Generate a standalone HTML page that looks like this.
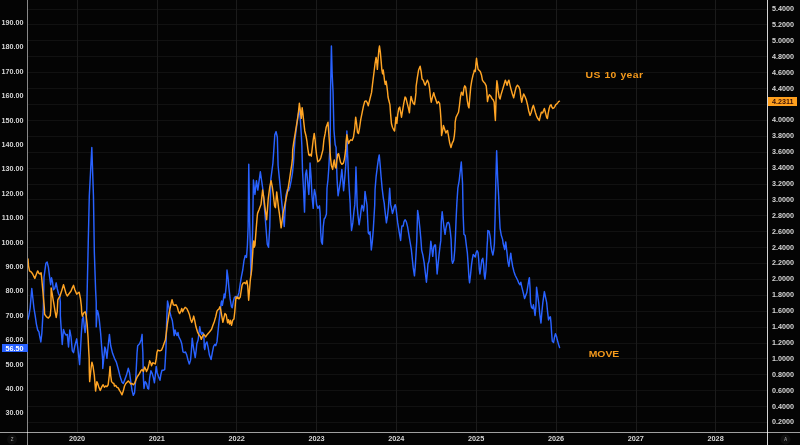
<!DOCTYPE html><html><head><meta charset="utf-8"><style>
html,body{margin:0;padding:0;background:#040404;}
body{width:800px;height:445px;position:relative;overflow:hidden;font-family:"Liberation Sans",sans-serif;}
.l{position:absolute;color:#d6d6d6;font-weight:bold;font-size:7.2px;line-height:8px;height:8px;white-space:nowrap;}
.ll{left:0;width:23.4px;text-align:right;}
.rl{left:772px;}
.yl{width:40px;text-align:center;top:434.6px;font-size:7.3px;}
.tag{position:absolute;font-weight:bold;font-size:7.2px;line-height:8px;height:8px;white-space:nowrap;}
.ann{transform:scaleY(0.93);transform-origin:0 100%;position:absolute;color:#f59a1c;font-weight:bold;font-size:10.4px;line-height:12px;white-space:nowrap;}
.ic{position:absolute;color:#8a8a8a;font-size:4.5px;line-height:6px;width:10px;text-align:center;font-weight:bold;}

</style></head><body>
<svg width="800" height="445" viewBox="0 0 800 445" style="position:absolute;left:0;top:0">
<rect x="28" y="9" width="739" height="1" fill="#111111"/>
<rect x="28" y="24" width="739" height="1" fill="#111111"/>
<rect x="28" y="40" width="739" height="1" fill="#111111"/>
<rect x="28" y="56" width="739" height="1" fill="#111111"/>
<rect x="28" y="72" width="739" height="1" fill="#111111"/>
<rect x="28" y="88" width="739" height="1" fill="#111111"/>
<rect x="28" y="104" width="739" height="1" fill="#111111"/>
<rect x="28" y="120" width="739" height="1" fill="#111111"/>
<rect x="28" y="136" width="739" height="1" fill="#111111"/>
<rect x="28" y="152" width="739" height="1" fill="#111111"/>
<rect x="28" y="168" width="739" height="1" fill="#111111"/>
<rect x="28" y="184" width="739" height="1" fill="#111111"/>
<rect x="28" y="199" width="739" height="1" fill="#111111"/>
<rect x="28" y="215" width="739" height="1" fill="#111111"/>
<rect x="28" y="231" width="739" height="1" fill="#111111"/>
<rect x="28" y="247" width="739" height="1" fill="#111111"/>
<rect x="28" y="263" width="739" height="1" fill="#111111"/>
<rect x="28" y="279" width="739" height="1" fill="#111111"/>
<rect x="28" y="295" width="739" height="1" fill="#111111"/>
<rect x="28" y="311" width="739" height="1" fill="#111111"/>
<rect x="28" y="327" width="739" height="1" fill="#111111"/>
<rect x="28" y="343" width="739" height="1" fill="#111111"/>
<rect x="28" y="358" width="739" height="1" fill="#111111"/>
<rect x="28" y="374" width="739" height="1" fill="#111111"/>
<rect x="28" y="390" width="739" height="1" fill="#111111"/>
<rect x="28" y="406" width="739" height="1" fill="#111111"/>
<rect x="28" y="422" width="739" height="1" fill="#111111"/>
<rect x="77" y="0" width="1" height="432" fill="#1b1b1b"/>
<rect x="157" y="0" width="1" height="432" fill="#1b1b1b"/>
<rect x="236" y="0" width="1" height="432" fill="#1b1b1b"/>
<rect x="316" y="0" width="1" height="432" fill="#1b1b1b"/>
<rect x="396" y="0" width="1" height="432" fill="#1b1b1b"/>
<rect x="476" y="0" width="1" height="432" fill="#1b1b1b"/>
<rect x="556" y="0" width="1" height="432" fill="#1b1b1b"/>
<rect x="636" y="0" width="1" height="432" fill="#1b1b1b"/>
<rect x="715" y="0" width="1" height="432" fill="#1b1b1b"/>
<clipPath id="c"><rect x="28" y="0" width="739" height="432"/></clipPath>
<g clip-path="url(#c)" fill="none" stroke-linejoin="round" stroke-linecap="round" stroke-width="1.45">
<path d="M28.01,319.33 L28.89,315.55 L30.15,308.00 L31.78,288.50 L33.92,308.00 L35.18,315.55 L36.44,324.36 L37.70,330.02 L38.96,331.91 L39.58,335.69 L40.84,341.98 L41.85,333.17 L42.73,318.07 L43.36,308.00 L43.99,277.17 L45.88,263.33 L47.14,262.07 L48.39,267.10 L49.65,277.17 L50.66,284.72 L51.54,277.80 L52.55,282.20 L53.43,289.75 L54.69,288.50 L56.20,282.83 L57.20,288.50 L58.46,293.53 L59.72,296.05 L60.35,302.34 L60.35,315.55 L60.98,325.62 L62.24,344.50 L63.50,329.39 L64.75,333.17 L66.01,335.06 L67.27,334.43 L68.53,347.01 L69.79,330.02 L71.05,336.95 L72.31,350.79 L73.56,352.68 L74.82,345.75 L76.71,338.83 L77.97,349.53 L79.23,360.86 L79.61,364.63 L80.49,349.53 L81.37,333.17 L82.37,319.33 L83.38,316.81 L84.26,326.88 L85.14,332.54 L86.15,320.58 L86.78,308.00 L88.04,252.00 L89.30,196.00 L91.81,147.55 L93.45,196.00 L94.33,252.00 L95.59,289.75 L96.22,302.34 L96.22,326.88 L96.85,315.55 L97.48,310.52 L98.48,314.29 L99.36,320.58 L100.62,333.17 L101.88,349.53 L102.76,360.86 L102.76,368.40 L103.77,358.34 L104.77,347.01 L105.66,349.53 L106.91,358.34 L108.17,345.75 L109.43,334.43 L110.69,345.75 L112.58,353.31 L114.47,358.34 L116.35,362.12 L118.24,369.03 L120.13,376.58 L122.02,382.25 L123.27,383.51 L124.53,380.36 L126.42,375.33 L128.26,368.32 L129.52,372.72 L130.78,381.53 L132.03,390.34 L133.29,395.37 L134.55,392.86 L135.56,381.53 L136.44,365.17 L137.07,352.58 L137.70,345.66 L139.58,343.78 L141.10,340.00 L142.10,334.34 L142.35,343.78 L142.86,352.58 L143.36,377.75 L143.99,388.45 L145.25,381.53 L146.51,383.42 L147.77,388.45 L148.65,389.08 L149.65,377.75 L150.91,370.83 L152.17,373.35 L153.43,377.75 L154.44,382.79 L155.32,375.24 L156.20,366.43 L157.20,372.72 L158.46,376.50 L159.97,380.27 L160.98,373.98 L161.99,370.20 L163.50,370.20 L164.75,369.57 L165.38,358.88 L166.01,347.55 L166.64,321.75 L167.52,300.99 L168.53,305.39 L169.79,311.69 L171.05,316.72 L172.31,320.50 L173.31,328.05 L174.19,335.60 L175.07,329.94 L176.08,333.71 L177.09,335.60 L177.97,332.45 L178.85,336.86 L180.49,340.00 L181.74,343.78 L183.00,351.96 L184.26,352.58 L185.52,351.96 L186.78,355.10 L188.04,360.14 L189.30,363.91 L190.55,360.14 L191.43,350.07 L191.94,342.52 L192.19,338.12 L192.95,343.78 L193.45,347.55 L194.33,352.58 L195.21,357.62 L196.22,350.07 L196.85,343.78 L198.10,340.00 L199.74,326.79 L200.62,331.82 L201.50,334.34 L202.51,332.45 L203.52,333.71 L204.02,339.37 L204.27,347.55 L204.77,349.44 L205.66,343.78 L206.91,341.89 L208.17,347.55 L209.43,355.10 L211.07,359.51 L212.33,352.58 L213.58,346.29 L214.84,344.40 L215.72,345.66 L216.98,341.89 L217.86,333.08 L218.87,323.01 L220.13,312.95 L221.14,302.88 L221.64,300.99 L222.39,305.39 L223.27,300.36 L224.16,294.07 L224.91,297.84 L225.79,290.29 L226.42,284.00 L227.00,270.00 L228.01,277.55 L228.89,287.62 L230.15,298.95 L231.40,306.50 L232.29,307.75 L233.29,301.46 L234.55,297.06 L236.06,296.43 L237.70,296.43 L238.96,292.65 L240.21,283.84 L241.47,276.29 L242.73,270.00 L243.99,260.56 L245.25,255.53 L246.51,257.42 L247.39,245.46 L248.14,226.58 L248.77,164.29 L249.65,221.55 L250.41,251.75 L250.91,275.03 L251.79,251.75 L252.55,232.88 L253.43,180.02 L254.94,194.50 L256.45,180.65 L257.83,190.09 L260.35,171.84 L261.61,180.65 L262.87,189.46 L264.50,208.34 L267.27,244.20 L268.53,247.35 L269.79,226.58 L270.80,179.39 L272.94,163.03 L274.82,134.72 L276.08,131.57 L277.34,137.24 L278.09,165.55 L279.23,176.88 L280.49,189.46 L282.12,205.82 L284.26,226.58 L285.90,195.75 L287.41,189.46 L288.67,190.72 L289.92,186.95 L291.18,180.65 L292.44,173.10 L293.45,163.03 L294.96,139.75 L296.85,124.65 L298.48,113.33 L299.24,108.92 L300.24,118.36 L301.25,133.46 L301.88,146.05 L302.51,170.58 L303.52,189.46 L304.52,212.12 L305.53,174.36 L306.54,169.96 L307.80,183.17 L308.80,194.50 L309.43,183.17 L310.06,163.03 L311.07,176.88 L311.95,195.75 L313.21,208.34 L313.84,195.75 L314.47,189.46 L315.72,195.75 L316.60,204.56 L317.86,208.34 L319.50,205.82 L320.13,213.37 L320.76,232.88 L321.39,241.69 L322.39,244.20 L323.27,226.58 L324.16,219.03 L325.16,217.78 L326.42,214.00 L327.00,188.27 L328.01,179.46 L328.89,166.88 L329.52,154.29 L330.15,148.00 L330.52,92.00 L330.90,73.75 L331.40,46.07 L332.16,73.75 L333.04,92.00 L333.92,129.75 L335.18,144.86 L336.06,147.37 L336.44,160.58 L337.07,179.46 L338.07,195.82 L339.33,188.27 L340.59,180.72 L341.85,169.39 L342.73,179.46 L343.61,190.79 L344.62,179.46 L345.63,166.88 L346.38,153.03 L346.88,131.01 L347.51,153.03 L347.89,160.58 L348.65,179.46 L349.65,195.82 L350.16,203.37 L350.41,211.55 L351.54,230.43 L352.80,222.88 L354.06,210.29 L354.81,204.63 L355.32,192.05 L355.95,166.88 L356.70,189.53 L357.20,206.52 L357.83,214.07 L359.09,224.77 L360.35,216.58 L361.23,209.03 L361.99,205.26 L362.87,207.15 L363.50,210.92 L364.25,205.26 L365.01,191.42 L366.01,198.34 L367.02,205.26 L367.52,216.58 L368.28,232.95 L369.16,234.20 L370.04,231.69 L370.80,241.75 L371.30,249.94 L372.31,241.75 L373.31,229.17 L374.19,214.07 L374.70,205.26 L375.07,189.53 L376.08,176.95 L377.34,166.88 L378.35,159.33 L379.23,154.92 L380.11,164.36 L381.12,176.95 L382.12,188.27 L383.38,198.34 L384.26,203.37 L384.64,207.78 L385.52,215.33 L386.40,222.88 L387.41,216.58 L388.41,207.78 L389.67,188.27 L390.68,204.63 L391.43,207.78 L392.44,213.44 L393.45,210.29 L394.33,206.52 L395.21,204.63 L395.97,207.78 L396.85,215.33 L397.73,222.88 L398.73,229.17 L399.74,235.46 L400.62,240.50 L401.25,231.69 L401.88,226.02 L403.14,226.02 L404.02,221.62 L405.03,219.73 L406.29,221.62 L407.54,226.65 L408.80,234.20 L410.06,241.75 L411.32,249.31 L413.21,267.69 L414.47,275.87 L415.35,265.17 L416.11,252.58 L416.74,241.26 L417.62,210.43 L418.63,216.72 L419.88,228.05 L420.89,239.37 L421.65,250.07 L422.90,255.10 L424.16,262.65 L425.17,271.46 L426.43,282.16 L427.44,271.46 L427.94,263.91 L428.95,261.39 L429.95,252.58 L430.83,241.26 L431.71,247.55 L432.72,256.36 L433.73,247.55 L434.61,245.03 L435.49,245.03 L436.24,258.88 L437.13,273.98 L438.01,265.17 L439.01,255.10 L440.02,246.29 L440.78,240.63 L441.28,221.75 L442.16,211.69 L443.04,219.24 L444.05,228.05 L445.05,234.34 L445.94,228.05 L447.19,223.01 L448.45,222.38 L449.33,224.27 L450.34,231.82 L451.09,239.37 L451.85,260.14 L452.61,263.28 L453.86,260.14 L454.74,250.07 L455.25,240.63 L456.00,221.75 L456.88,202.88 L457.89,187.78 L459.15,180.86 L461.29,161.98 L462.55,183.37 L462.80,196.58 L463.18,215.46 L463.93,234.34 L465.19,235.60 L466.45,246.29 L467.33,252.58 L468.21,265.17 L468.97,277.75 L469.59,282.79 L470.48,275.24 L471.48,265.17 L472.36,258.88 L473.24,254.47 L474.25,255.73 L475.26,256.99 L476.14,252.58 L477.02,250.70 L478.03,252.58 L478.66,258.88 L479.29,268.95 L479.91,273.98 L480.80,267.69 L481.80,260.14 L482.81,258.25 L483.69,265.17 L484.32,275.24 L484.95,279.01 L485.83,271.46 L486.58,258.88 L487.09,246.29 L487.47,240.63 L487.84,230.56 L489.10,231.19 L489.98,235.60 L490.49,239.37 L490.86,245.03 L491.87,251.33 L492.88,255.10 L493.76,250.07 L494.39,243.78 L495.14,215.46 L495.52,196.58 L495.90,178.34 L496.65,150.65 L497.66,178.34 L498.67,196.58 L499.42,215.46 L500.05,228.05 L501.33,235.60 L502.58,239.37 L503.21,243.78 L504.72,249.44 L505.73,241.89 L506.99,252.58 L507.87,261.39 L508.88,266.43 L509.88,258.88 L510.77,253.21 L511.65,260.14 L512.65,266.43 L513.91,271.46 L515.17,275.24 L516.43,277.75 L517.69,280.27 L518.95,283.42 L519.95,284.68 L520.83,282.16 L521.71,286.56 L522.97,291.60 L524.61,298.52 L526.75,292.86 L527.75,286.56 L528.76,280.27 L529.39,277.75 L530.02,287.82 L530.52,302.29 L531.53,307.33 L532.54,308.58 L533.42,304.81 L534.05,308.58 L535.05,315.51 L535.94,306.07 L536.56,287.19 L538.83,303.55 L539.71,313.62 L540.97,323.06 L541.85,312.36 L542.86,302.29 L544.37,291.60 L546.63,302.29 L547.64,312.36 L548.52,319.91 L549.40,317.39 L550.41,316.77 L551.04,323.69 L551.67,333.75 L552.30,341.31 L553.55,342.56 L554.43,337.53 L555.44,333.75 L556.45,336.27 L557.33,340.05 L558.59,344.45 L559.59,347.60" stroke="#2962ff"/>
<path d="M28.01,258.92 L28.51,265.84 L29.52,270.88 L31.40,272.14 L32.66,274.02 L34.80,278.43 L36.44,274.02 L37.70,270.88 L38.96,273.39 L40.21,274.02 L41.10,272.77 L41.85,279.69 L42.73,289.75 L43.61,299.82 L44.37,308.00 L44.62,314.29 L46.51,316.81 L48.39,318.07 L50.28,315.55 L50.91,308.00 L51.16,287.87 L52.17,293.53 L53.18,299.82 L54.06,304.86 L54.94,310.52 L56.20,317.44 L57.20,311.78 L57.83,299.82 L58.46,298.56 L59.97,296.05 L61.61,291.01 L63.50,284.72 L64.75,289.13 L66.01,293.53 L67.27,296.05 L69.16,293.53 L71.05,291.01 L72.31,287.87 L73.56,285.35 L74.82,289.75 L76.71,294.16 L77.97,292.90 L79.23,292.27 L80.49,298.56 L81.37,306.12 L81.74,313.03 L82.37,316.18 L83.63,313.03 L85.14,311.78 L86.15,315.55 L87.16,324.36 L88.04,336.95 L88.67,349.53 L89.17,358.34 L89.30,371.55 L89.67,381.62 L90.55,372.81 L91.43,365.26 L91.94,362.12 L93.07,366.52 L94.33,375.33 L95.59,391.06 L96.85,381.62 L97.73,383.51 L98.73,386.65 L100.24,390.43 L101.88,386.65 L103.14,384.77 L104.40,387.28 L105.66,386.02 L106.91,386.65 L108.17,384.77 L109.43,374.07 L110.06,366.52 L110.69,375.33 L111.57,381.62 L112.58,382.88 L113.84,383.51 L114.47,386.02 L115.72,385.39 L116.98,387.28 L118.24,387.91 L119.50,390.43 L120.76,392.32 L122.02,394.83 L123.27,391.06 L124.53,386.02 L125.79,383.51 L128.26,380.90 L129.52,382.16 L130.78,384.05 L132.03,383.42 L133.29,384.68 L134.55,383.42 L135.81,380.27 L137.07,377.13 L138.33,375.24 L139.58,373.35 L140.84,370.83 L142.10,369.57 L143.36,371.46 L144.62,367.06 L145.88,369.57 L146.51,371.46 L147.77,368.95 L149.02,363.91 L149.65,360.77 L150.91,363.28 L151.54,365.80 L152.80,362.65 L154.06,363.28 L155.32,363.91 L156.20,358.88 L156.95,352.58 L157.83,350.07 L159.09,350.70 L160.35,350.70 L161.61,350.07 L162.87,346.92 L164.13,343.15 L165.38,340.00 L166.27,333.08 L167.52,323.01 L169.16,312.95 L170.80,304.77 L172.05,299.73 L173.31,304.77 L174.82,305.39 L176.08,304.77 L177.34,307.28 L178.35,311.06 L179.61,313.57 L180.86,311.06 L181.74,308.54 L182.63,311.69 L183.88,309.17 L185.14,307.28 L186.78,308.54 L188.04,311.06 L189.30,314.20 L190.55,319.24 L191.81,322.38 L192.69,319.87 L193.70,316.09 L194.71,320.50 L195.97,326.79 L197.48,331.82 L198.99,334.97 L200.24,336.23 L201.25,339.37 L202.26,336.86 L203.52,334.34 L204.77,335.60 L205.66,336.86 L206.91,334.97 L208.55,333.08 L210.06,331.19 L211.57,329.31 L212.83,325.53 L214.47,321.13 L215.72,316.72 L216.98,311.06 L217.86,309.80 L218.87,309.17 L219.88,306.65 L220.76,309.80 L221.64,315.46 L222.90,322.38 L223.90,317.98 L224.91,313.57 L226.17,314.83 L227.63,322.86 L228.51,319.71 L229.52,324.12 L230.52,320.34 L231.53,325.37 L232.66,320.34 L233.92,319.08 L234.80,311.53 L235.56,301.46 L236.06,297.06 L237.07,298.32 L237.70,297.06 L238.96,298.95 L240.21,297.06 L241.10,291.39 L242.10,285.10 L243.11,283.21 L244.37,282.58 L245.63,283.84 L246.88,280.70 L247.77,286.36 L248.65,300.20 L249.40,291.39 L250.28,280.07 L251.16,273.78 L251.67,270.00 L252.17,261.82 L252.80,251.75 L253.18,244.20 L253.68,241.06 L254.18,247.35 L254.94,245.46 L255.69,235.39 L256.57,224.07 L257.20,216.52 L257.58,213.37 L259.09,209.60 L260.98,204.56 L262.62,190.09 L263.75,197.01 L264.75,205.82 L265.51,211.49 L266.64,219.66 L267.52,208.34 L268.28,198.27 L269.79,186.95 L271.05,180.65 L272.31,186.95 L273.31,194.50 L274.57,205.82 L275.45,207.71 L276.71,191.98 L277.59,199.53 L278.60,208.34 L279.35,213.37 L280.11,219.03 L281.12,227.84 L282.12,220.29 L283.13,213.37 L284.26,207.71 L286.15,198.27 L288.04,188.83 L289.55,179.39 L290.81,170.58 L291.81,164.29 L292.44,158.63 L292.69,149.82 L293.70,142.27 L295.59,130.95 L297.22,120.88 L298.48,112.07 L299.36,103.26 L300.24,109.55 L301.25,118.36 L302.13,107.66 L302.89,113.33 L303.77,122.14 L304.77,130.95 L306.03,135.98 L306.91,141.01 L307.80,148.56 L308.80,154.86 L309.43,155.49 L310.31,154.23 L311.32,156.12 L312.33,147.31 L313.21,139.75 L314.21,133.46 L315.09,139.75 L315.72,147.31 L316.60,154.86 L317.86,161.78 L319.50,160.52 L320.76,158.00 L322.90,149.82 L323.90,139.75 L325.16,133.46 L326.17,127.17 L328.01,122.20 L328.51,129.75 L329.27,139.82 L329.77,147.37 L330.52,158.07 L331.40,165.62 L332.66,169.39 L333.54,163.10 L334.30,159.96 L335.18,166.88 L336.06,168.14 L336.82,160.58 L337.70,154.29 L338.58,153.66 L339.58,158.07 L340.59,162.47 L341.85,164.36 L343.36,163.10 L344.37,159.33 L345.25,153.03 L345.75,148.63 L346.13,141.08 L346.88,134.79 L347.77,139.82 L348.65,143.60 L349.65,141.08 L350.91,139.82 L352.17,140.45 L353.43,137.31 L354.69,128.50 L355.69,117.17 L356.57,123.46 L357.46,132.27 L358.46,133.53 L359.47,128.50 L360.73,119.69 L362.24,112.14 L363.50,105.84 L364.75,101.44 L366.01,100.81 L367.27,102.70 L368.28,105.84 L369.16,102.07 L370.42,97.03 L371.55,92.63 L372.56,83.82 L373.82,73.75 L375.07,63.69 L376.08,57.39 L376.71,61.17 L377.34,69.35 L377.97,61.17 L378.85,49.84 L379.48,46.07 L380.36,52.36 L381.12,61.17 L381.87,69.98 L382.63,73.75 L383.25,69.98 L383.88,75.01 L384.64,81.31 L385.27,84.45 L386.15,81.31 L386.90,86.34 L387.53,91.37 L388.04,97.03 L388.92,100.81 L389.92,104.58 L390.55,113.39 L391.43,123.46 L392.44,127.24 L393.70,129.75 L394.58,131.01 L395.21,124.72 L395.97,117.17 L396.85,123.46 L397.73,114.65 L398.73,108.36 L399.74,107.10 L400.62,112.14 L401.50,117.17 L402.51,110.88 L403.77,103.33 L405.03,97.03 L406.03,98.29 L406.91,102.07 L408.17,107.10 L409.43,112.77 L410.06,104.58 L411.07,96.40 L411.95,99.55 L413.21,103.33 L414.47,104.58 L415.35,98.29 L415.98,92.63 L416.10,86.34 L417.36,77.53 L418.62,69.98 L420.13,66.20 L421.14,71.53 L422.02,79.08 L423.28,80.34 L424.54,84.12 L425.17,85.21 L426.18,82.70 L427.44,80.18 L428.69,83.33 L429.57,88.36 L430.46,97.17 L431.21,102.20 L432.47,97.17 L433.73,92.77 L434.61,95.91 L435.87,99.69 L437.13,103.46 L438.38,101.57 L439.64,103.46 L440.27,109.75 L440.90,118.56 L441.28,126.12 L441.53,135.55 L442.54,131.15 L443.42,125.49 L445.05,130.52 L445.94,133.03 L446.82,131.15 L447.57,130.52 L448.45,135.55 L449.71,143.10 L450.97,147.51 L452.23,143.10 L453.49,140.58 L454.37,135.55 L455.00,128.63 L455.12,122.34 L456.00,117.31 L457.26,114.79 L458.52,112.27 L459.40,105.98 L460.41,97.17 L461.41,92.14 L462.30,94.02 L462.92,95.28 L463.93,88.36 L464.81,85.84 L465.69,87.10 L466.45,93.39 L467.33,100.95 L468.21,105.98 L468.97,107.87 L469.85,97.17 L470.73,87.10 L471.73,80.81 L472.99,75.15 L473.87,72.38 L474.25,70.27 L475.26,71.53 L475.89,63.98 L476.52,58.32 L477.27,63.98 L478.03,69.01 L479.03,70.27 L480.29,71.53 L481.55,75.31 L482.43,80.18 L483.69,82.07 L484.95,83.33 L486.21,85.84 L486.84,92.14 L487.47,101.57 L488.35,97.17 L489.35,94.65 L490.61,95.91 L491.87,98.43 L493.13,99.69 L494.14,102.20 L494.64,111.01 L495.39,120.45 L495.90,103.46 L496.40,88.36 L496.90,80.81 L497.53,84.58 L498.16,90.88 L499.17,97.17 L500.05,99.06 L501.07,94.65 L502.58,89.62 L504.10,84.58 L505.35,80.18 L506.36,82.70 L507.12,85.21 L507.87,82.07 L508.88,80.18 L509.88,84.58 L511.14,89.62 L512.40,94.02 L513.66,97.80 L514.92,92.14 L516.18,87.10 L517.44,85.21 L518.69,86.47 L519.95,89.62 L520.83,97.17 L521.71,102.20 L522.72,97.17 L523.73,94.02 L524.99,96.54 L526.24,99.69 L527.50,104.72 L528.76,111.01 L530.02,115.42 L531.28,112.27 L532.54,107.24 L533.42,105.35 L534.30,108.50 L535.31,112.27 L536.56,116.05 L537.82,118.56 L539.33,120.45 L540.34,116.05 L541.35,112.27 L542.61,112.90 L543.86,109.75 L544.37,108.50 L545.37,112.27 L546.63,117.31 L547.39,118.56 L548.14,113.53 L549.15,108.50 L550.16,105.35 L551.04,104.72 L551.92,107.24 L552.92,108.50 L553.93,107.87 L554.81,106.61 L555.69,104.72 L556.70,104.09 L557.71,102.83 L558.59,101.57 L559.47,101.20" stroke="#ffa424"/>
</g>
<rect x="0" y="432" width="800" height="1" fill="#a0a0a0"/>
<rect x="27" y="0" width="1" height="445" fill="#888888"/>
<rect x="767" y="0" width="1" height="445" fill="#d4d4d4"/>
<rect x="27" y="432" width="1" height="1" fill="#dcdcdc"/><rect x="767" y="432" width="1" height="1" fill="#f0f0f0"/>
<circle cx="12" cy="439.5" r="5" fill="#0e0e0e"/>
<circle cx="785.5" cy="439.5" r="5" fill="#101010"/>
</svg>
<div style="position:absolute;left:0;top:0;width:800px;height:445px;will-change:transform;transform:translateZ(0)">
<div class="l ll" style="top:18.9px">190.00</div>
<div class="l ll" style="top:43.3px">180.00</div>
<div class="l ll" style="top:67.7px">170.00</div>
<div class="l ll" style="top:92.1px">160.00</div>
<div class="l ll" style="top:116.5px">150.00</div>
<div class="l ll" style="top:140.9px">140.00</div>
<div class="l ll" style="top:165.3px">130.00</div>
<div class="l ll" style="top:189.7px">120.00</div>
<div class="l ll" style="top:214.1px">110.00</div>
<div class="l ll" style="top:238.5px">100.00</div>
<div class="l ll" style="top:262.9px">90.00</div>
<div class="l ll" style="top:287.3px">80.00</div>
<div class="l ll" style="top:311.7px">70.00</div>
<div class="l ll" style="top:336.1px">60.00</div>
<div class="l ll" style="top:360.5px">50.00</div>
<div class="l ll" style="top:384.9px">40.00</div>
<div class="l ll" style="top:409.3px">30.00</div>
<div class="l rl" style="top:5.0px">5.4000</div>
<div class="l rl" style="top:20.9px">5.2000</div>
<div class="l rl" style="top:36.8px">5.0000</div>
<div class="l rl" style="top:52.7px">4.8000</div>
<div class="l rl" style="top:68.6px">4.6000</div>
<div class="l rl" style="top:84.5px">4.4000</div>
<div class="l rl" style="top:100.4px">4.2000</div>
<div class="l rl" style="top:116.3px">4.0000</div>
<div class="l rl" style="top:132.2px">3.8000</div>
<div class="l rl" style="top:148.1px">3.6000</div>
<div class="l rl" style="top:164.0px">3.4000</div>
<div class="l rl" style="top:179.9px">3.2000</div>
<div class="l rl" style="top:195.8px">3.0000</div>
<div class="l rl" style="top:211.7px">2.8000</div>
<div class="l rl" style="top:227.6px">2.6000</div>
<div class="l rl" style="top:243.5px">2.4000</div>
<div class="l rl" style="top:259.4px">2.2000</div>
<div class="l rl" style="top:275.3px">2.0000</div>
<div class="l rl" style="top:291.2px">1.8000</div>
<div class="l rl" style="top:307.1px">1.6000</div>
<div class="l rl" style="top:323.0px">1.4000</div>
<div class="l rl" style="top:338.9px">1.2000</div>
<div class="l rl" style="top:354.8px">1.0000</div>
<div class="l rl" style="top:370.7px">0.8000</div>
<div class="l rl" style="top:386.6px">0.6000</div>
<div class="l rl" style="top:402.5px">0.4000</div>
<div class="l rl" style="top:418.4px">0.2000</div>
<div class="l yl" style="left:57.0px">2020</div>
<div class="l yl" style="left:136.8px">2021</div>
<div class="l yl" style="left:216.7px">2022</div>
<div class="l yl" style="left:296.5px">2023</div>
<div class="l yl" style="left:376.3px">2024</div>
<div class="l yl" style="left:456.1px">2025</div>
<div class="l yl" style="left:536.0px">2026</div>
<div class="l yl" style="left:615.8px">2027</div>
<div class="l yl" style="left:695.6px">2028</div>
<div class="tag" style="left:2px;top:344px;width:26px;height:8px;background:#2962ff;color:#fff;"><span style="position:absolute;left:3.5px;top:0.9px">56.50</span></div>
<div class="tag" style="left:768px;top:97.4px;width:29px;height:8.4px;background:#ffa01e;color:#3a1208;"><span style="position:absolute;left:4px;top:0.3px">4.2311</span></div>
<div class="ann" style="left:585.5px;top:69.2px;letter-spacing:0.42px;word-spacing:0.3px">US 10 year</div>
<div class="ann" style="left:588.7px;top:348.2px;letter-spacing:0px">MOVE</div>
<div class="ic" style="left:7px;top:436.5px">Z</div>
<div class="ic" style="left:780.5px;top:436.5px">A</div>
</div></body></html>
